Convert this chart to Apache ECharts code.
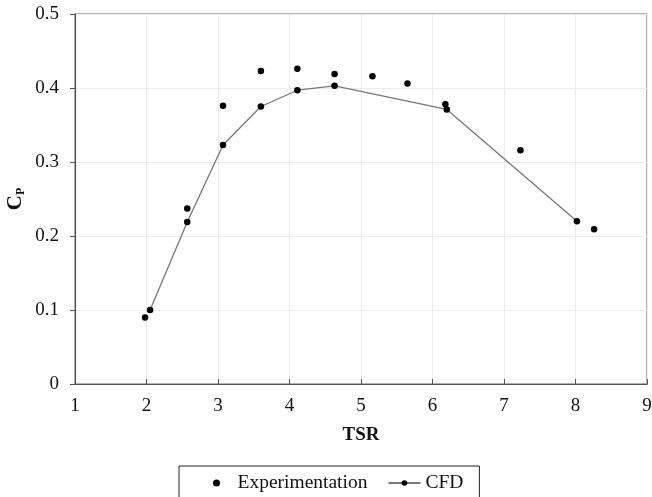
<!DOCTYPE html>
<html><head><meta charset="utf-8">
<script src="https://cdn.jsdelivr.net/npm/echarts@6/dist/echarts.min.js"></script>
<style>html,body{margin:0;padding:0;background:#fff}#c{width:652px;height:497px}</style>
</head><body><div id="c"></div>
<script>
const expTSR = [1.98, 2.57, 3.07, 3.60, 4.11, 4.63, 5.16, 5.65, 6.18, 7.23, 8.26];
const expCp  = [0.090, 0.237, 0.376, 0.423, 0.426, 0.419, 0.416, 0.406, 0.378, 0.316, 0.209];
const cfdTSR = [2.05, 2.57, 3.07, 3.60, 4.11, 4.63, 6.20, 8.02];
const cfdCp  = [0.100, 0.219, 0.323, 0.375, 0.397, 0.403, 0.371, 0.220];
const xTicks = [1, 2, 3, 4, 5, 6, 7, 8, 9];
const yTicks = [0, 0.1, 0.2, 0.3, 0.4, 0.5];

const font = 'Liberation Serif';
const chart = echarts.init(document.getElementById('c'), null, {renderer: 'canvas'});
chart.setOption({
  backgroundColor: '#fff',
  animation: false,
  textStyle: {fontFamily: font},
  grid: {left: 75, right: 5, top: 14, bottom: 113, show: true, borderColor: '#9a9a9a', borderWidth: 1.5,
         containLabel: false, outerBoundsMode: 'none'},
  xAxis: {
    type: 'value', min: xTicks[0], max: xTicks[xTicks.length - 1], interval: 1,
    name: 'TSR', nameLocation: 'middle', nameGap: 42, nameMoveOverlap: false,
    nameTextStyle: {fontFamily: font, fontSize: 19, fontWeight: 'bold', color: '#111'},
    axisLine: {show: true, lineStyle: {color: '#555', width: 1.2}},
    axisTick: {show: true, inside: true, length: 5, lineStyle: {color: '#555'}},
    axisLabel: {fontFamily: font, fontSize: 19, color: '#111', margin: 13},
    splitLine: {show: true, lineStyle: {color: '#ececec', width: 1}}
  },
  yAxis: {
    type: 'value', min: yTicks[0], max: yTicks[yTicks.length - 1], interval: 0.1,
    name: '{a|C}{b|P}', nameLocation: 'middle', nameGap: 48, nameRotate: 90, nameMoveOverlap: false,
    nameTextStyle: {
      rich: {
        a: {fontFamily: font, fontSize: 21, fontWeight: 'bold', color: '#111'},
        b: {fontFamily: font, fontSize: 12, fontWeight: 'bold', color: '#111', verticalAlign: 'bottom', padding: [10, 0, 0, 0]}
      }
    },
    axisLine: {show: true, lineStyle: {color: '#555', width: 1.2}},
    axisTick: {show: true, inside: false, length: 5, lineStyle: {color: '#555'}},
    axisLabel: {fontFamily: font, fontSize: 19, color: '#111', margin: 16,
      formatter: v => (Math.round(v * 10) / 10).toString()},
    splitLine: {show: true, lineStyle: {color: '#ececec', width: 1}}
  },
  legend: {
    left: 179, top: 466, width: 320,
    data: [{name: 'Experimentation', icon: 'circle'}, {name: 'CFD'}],
    itemWidth: 32, itemHeight: 7, itemGap: 20,
    borderColor: '#222', borderWidth: 1,
    padding: [7, 16, 20, 34],
    textStyle: {fontFamily: font, fontSize: 19.5, color: '#111'}
  },
  series: [
    {
      name: 'Experimentation', type: 'scatter',
      data: expTSR.map((x, i) => [x, expCp[i]]),
      symbol: 'circle', symbolSize: 6.5,
      itemStyle: {color: '#000', opacity: 1}
    },
    {
      name: 'CFD', type: 'line',
      data: cfdTSR.map((x, i) => [x, cfdCp[i]]),
      symbol: 'circle', symbolSize: 6.5, showSymbol: true,
      lineStyle: {color: '#777', width: 1.3},
      itemStyle: {color: '#000'}
    }
  ]
});
</script></body></html>
